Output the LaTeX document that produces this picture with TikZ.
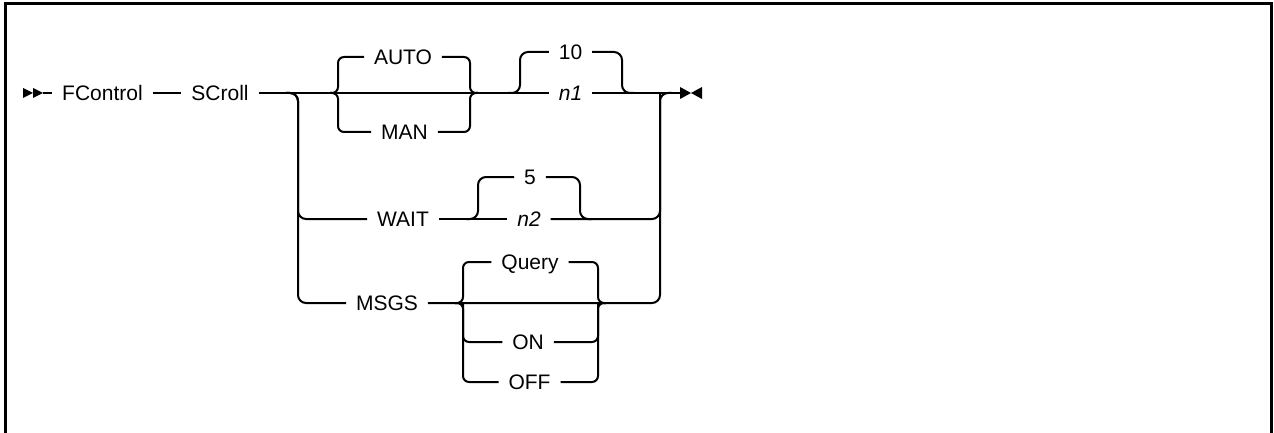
\documentclass[tikz,border=0pt]{standalone}
\usepackage{fontspec}
\setmainfont{Liberation Sans}
\begin{document}
\begin{tikzpicture}[x=1pt,y=-1pt,line width=2pt,
  lbl/.style={inner xsep=9pt,inner ysep=0pt,text height=15pt,text depth=0pt,
    font=\fontsize{21}{25}\selectfont},
  rc/.style={rounded corners=8pt},
  rcs/.style={rounded corners=6pt},
  frame/.style={line width=3pt}]
\useasboundingbox (0,0) rectangle (1274,433);
% frame
\draw[frame] (5.5,433) -- (5.5,3.5) -- (1271.5,3.5) -- (1271.5,433);

% start and end markers
\fill (23,88) -- (33,93) -- (23,98) -- cycle;
\fill (33,88) -- (43,93) -- (33,98) -- cycle;
\coordinate (st) at (43,93);
\fill (680,87) -- (691,93) -- (680,99) -- cycle;
\fill (702,87) -- (691,93) -- (702,99) -- cycle;
\coordinate (em) at (680,93);

% text nodes
\node[lbl] (fc) at (102.5,93) {FControl};
\node[lbl] (sc) at (220,93) {SCroll};
\node[lbl] (auto) at (403,57) {AUTO};
\node[lbl] (man) at (404.5,132) {MAN};
\node[lbl] (ten) at (570.5,52) {10};
\node[lbl] (n1) at (570.5,93) {\itshape n1};
\node[lbl] (wait) at (403,219) {WAIT};
\node[lbl] (five) at (530,177) {5};
\node[lbl] (n2) at (529,219) {\itshape n2};
\node[lbl] (msgs) at (387,303) {MSGS};
\node[lbl] (query) at (530,262) {Query};
\node[lbl] (on) at (528,342) {ON};
\node[lbl] (off) at (529.5,382) {OFF};

% junction coordinates
\coordinate (jla) at (286,93);
\coordinate (jl) at (298,93);
\coordinate (jr) at (660,93);
\coordinate (jra) at (672,93);
\coordinate (ab) at (338,93);
\coordinate (abp) at (330,93);
\coordinate (ae) at (470,93);
\coordinate (aep) at (478,93);
\coordinate (t1a) at (508,93);
\coordinate (t1l) at (520,93);
\coordinate (t1r) at (622,93);
\coordinate (t1ra) at (634,93);
\coordinate (w5a) at (466,219);
\coordinate (w5l) at (478,219);
\coordinate (w5r) at (580,219);
\coordinate (w5ra) at (592,219);
\coordinate (qb) at (463,303);
\coordinate (qbp) at (455,303);
\coordinate (qe) at (598,303);
\coordinate (qep) at (606,303);

% main line
\draw (st) -- (fc);
\draw (fc) -- (sc);
\draw (sc) -- (n1);
\draw (n1) -- (em);

% left fork
\draw[rc] (jla) -- (jl) |- (wait);
\draw[rc] (jla) -- (jl) |- (msgs);
% right join
\draw[rc] (msgs.east) -| (jr) -- (jra);
\draw[rc] (n2.east) -| (jr);

% AUTO / MAN brace
\draw[rcs] (auto.west) -| (ab) -- (abp);
\draw[rcs] (man.west) -| (ab) -- (abp);
\draw[rcs] (auto.east) -| (ae) -- (aep);
\draw[rcs] (man.east) -| (ae) -- (aep);

% 10 / n1
\draw[rc] (t1a) -- (t1l) |- (ten);
\draw[rc] (ten.east) -| (t1r) -- (t1ra);

% WAIT row
\draw (wait) -- (n2);
\draw[rc] (w5a) -- (w5l) |- (five);
\draw[rc] (five.east) -| (w5r) -- (w5ra);

% Query / ON / OFF brace
\draw[rcs] (query.west) -| (qb) -- (qbp);
\draw[rcs] (off.west) -| (qb) -- (qbp);
\draw[rcs] (on.west) -| (qb);
\draw[rcs] (query.east) -| (qe) -- (qep);
\draw[rcs] (off.east) -| (qe) -- (qep);
\draw[rcs] (on.east) -| (qe);
\end{tikzpicture}
\end{document}
